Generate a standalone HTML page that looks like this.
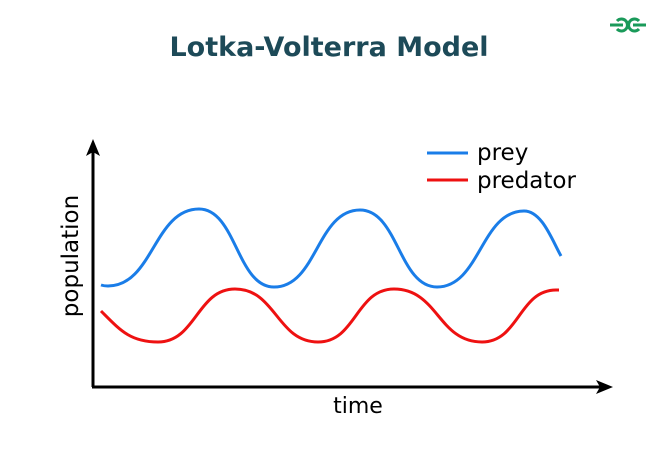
<!DOCTYPE html>
<html><head><meta charset="utf-8"><style>
html,body{margin:0;padding:0;background:#fff;}
svg{display:block;}
</style></head><body>
<svg width="660" height="472" viewBox="0 0 660 472" xmlns="http://www.w3.org/2000/svg">
<rect width="660" height="472" fill="#fff"/>
<text x="329" y="56" text-anchor="middle" font-family="DejaVu Sans, sans-serif" font-weight="bold" font-size="27" fill="#1d4a58">Lotka-Volterra Model</text>
<g fill="none" stroke="#1a9a5a" stroke-width="3">
<path d="M617 29 A6 6 0 1 0 617 21 M610 25 H623"/>
<path d="M639 29 A6 6 0 1 1 639 21 M633 25 H646"/>
</g>
<line x1="93" y1="150" x2="93" y2="387" stroke="#000" stroke-width="3"/>
<line x1="92" y1="387" x2="602" y2="387" stroke="#000" stroke-width="3"/>
<polygon points="93,139 86,156 93,152 100,156" fill="#000"/>
<polygon points="613,387 596,380 600,387 596,394" fill="#000"/>
<path d="M101,285 C104,286 105,286 108,286 C153,286 154,209 199,209 C236,209 237,287 274,287 C317,287 317,210 360,210 C398,210 399,287 437,287 C480,287 481,211 524,211 C542,211 552,240 561,256" fill="none" stroke="#1a7de8" stroke-width="3"/>
<path d="M101,311 C120,330 130,342 158,342 C196,342 197,289 235,289 C276,289 277,342 318,342 C356,342 356,289 394,289 C438,289 438,342 482,342 C519,342 519,290 556,290 L559,290" fill="none" stroke="#ee1111" stroke-width="3"/>
<line x1="427" y1="153" x2="468" y2="153" stroke="#1a7de8" stroke-width="3"/>
<line x1="427" y1="180" x2="468" y2="180" stroke="#ee1111" stroke-width="3"/>
<text x="477" y="160" font-family="DejaVu Sans, sans-serif" font-size="23" fill="#000">prey</text>
<text x="477" y="188" font-family="DejaVu Sans, sans-serif" font-size="23" fill="#000">predator</text>
<text x="358" y="413" text-anchor="middle" font-family="DejaVu Sans, sans-serif" font-size="22" fill="#000">time</text>
<text transform="translate(78,256) rotate(-90)" text-anchor="middle" font-family="DejaVu Sans, sans-serif" font-size="23" fill="#000">population</text>
</svg>
</body></html>
